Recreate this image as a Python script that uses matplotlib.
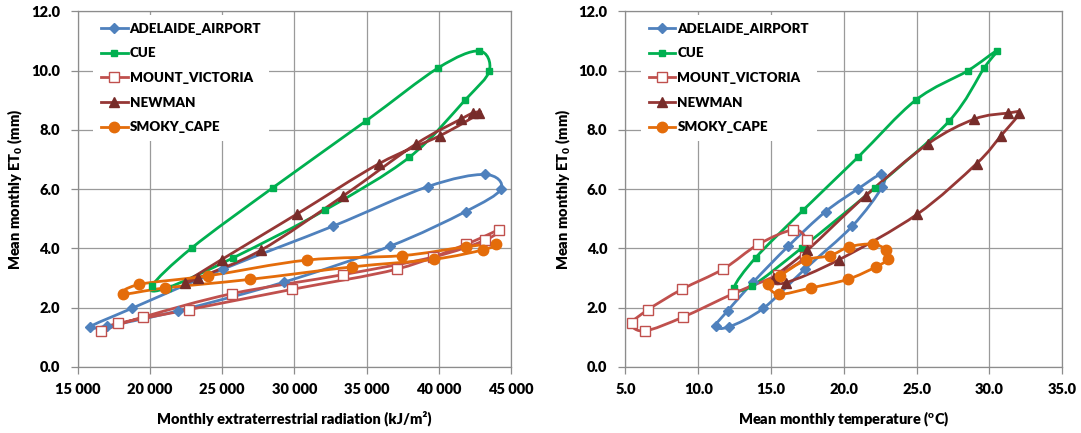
import numpy as np
import matplotlib
matplotlib.use("Agg")
import matplotlib.pyplot as plt
from matplotlib.path import Path
from matplotlib.patches import PathPatch
from matplotlib.lines import Line2D
from matplotlib.ticker import FuncFormatter, MultipleLocator

plt.rcParams['font.family'] = ['Lato', 'DejaVu Sans']
plt.rcParams['font.weight'] = 'heavy'
plt.rcParams['mathtext.fontset'] = 'custom'
plt.rcParams['mathtext.rm'] = 'Lato:heavy'
plt.rcParams['mathtext.bf'] = 'Lato:heavy'
plt.rcParams['mathtext.it'] = 'Lato:heavy'

# monthly values, Jan..Dec
adelaide_rad = [43199, 39230, 32693, 25076, 18733, 15845, 17000, 21960, 29300, 36620, 41862, 44306]
adelaide_temp = [22.55, 22.64, 20.58, 17.33, 14.46, 12.13, 11.19, 12.02, 13.78, 16.18, 18.75, 20.96]
adelaide_et0 = [6.49, 6.08, 4.75, 3.30, 1.97, 1.35, 1.37, 1.89, 2.86, 4.07, 5.24, 6.00]

cue_rad = [42783, 39965, 34935, 28497, 22887, 20117, 21225, 25770, 32119, 37957, 41814, 43498]
cue_temp = [30.49, 29.64, 27.22, 22.13, 17.10, 13.67, 12.47, 13.94, 17.21, 20.96, 24.93, 28.50]
cue_et0 = [10.66, 10.09, 8.29, 6.04, 4.01, 2.72, 2.67, 3.68, 5.29, 7.07, 9.00, 9.99]

mtvic_rad = [43199, 39590, 33376, 25700, 19536, 16586, 17763, 22700, 29813, 37128, 41862, 44167]
mtvic_temp = [17.44, 17.33, 15.49, 12.41, 8.97, 6.34, 5.43, 6.57, 8.86, 11.72, 14.12, 16.53]
mtvic_et0 = [4.27, 3.70, 3.11, 2.47, 1.68, 1.21, 1.46, 1.93, 2.61, 3.30, 4.13, 4.62]

newman_rad = [42783, 40082, 35879, 30159, 24965, 22424, 23345, 27666, 33386, 38420, 41536, 42346]
newman_temp = [32.03, 30.79, 29.12, 25.04, 19.69, 16.01, 15.22, 17.49, 21.49, 25.76, 28.96, 31.25]
newman_et0 = [8.55, 7.80, 6.86, 5.15, 3.62, 2.84, 3.00, 3.93, 5.77, 7.52, 8.36, 8.56]

smoky_rad = [43082, 39688, 33967, 26925, 21039, 18109, 19259, 24037, 30851, 37430, 41862, 43938]
smoky_temp = [22.87, 23.01, 22.19, 20.26, 17.72, 15.54, 14.81, 15.61, 17.38, 19.05, 20.37, 21.98]
smoky_et0 = [3.95, 3.63, 3.37, 2.95, 2.66, 2.45, 2.78, 3.07, 3.60, 3.75, 4.05, 4.14]

stations = ['ADELAIDE_AIRPORT', 'CUE', 'MOUNT_VICTORIA', 'NEWMAN', 'SMOKY_CAPE']
rad = [adelaide_rad, cue_rad, mtvic_rad, newman_rad, smoky_rad]
temp = [adelaide_temp, cue_temp, mtvic_temp, newman_temp, smoky_temp]
et0 = [adelaide_et0, cue_et0, mtvic_et0, newman_et0, smoky_et0]

styles = {
    'ADELAIDE_AIRPORT': dict(color='#4F81BD', marker='D', ms=5.5, mfc='#4F81BD', mec='#4F81BD'),
    'CUE': dict(color='#00B050', marker='s', ms=4.5, mfc='#00B050', mec='#00B050'),
    'MOUNT_VICTORIA': dict(color='#C0504D', marker='s', ms=7.5, mfc='white', mec='#C0504D'),
    'NEWMAN': dict(color='#953735', marker='^', ms=7.5, mfc='#772C2A', mec='#772C2A'),
    'SMOKY_CAPE': dict(color='#E46C0A', marker='o', ms=7.5, mfc='#E46C0A', mec='#E46C0A'),
}


def smooth_loop_path(x, y):
    # closed Bezier loop through the points, like Excel's smoothed line
    p = np.column_stack([x, y]).astype(float)
    m = len(p)
    verts = [p[0]]
    codes = [Path.MOVETO]
    for i in range(m):
        p0, p1, p2, p3 = p[(i - 1) % m], p[i], p[(i + 1) % m], p[(i + 2) % m]
        verts += [p1 + (p2 - p0) / 6.0, p2 - (p3 - p1) / 6.0, p2]
        codes += [Path.CURVE4] * 3
    return Path(verts, codes)


def draw_panel(ax, xs_list, xlabel, xlim, xstep, xfmt):
    for name, xs, ys in zip(stations, xs_list, et0):
        st = styles[name]
        patch = PathPatch(smooth_loop_path(xs, ys), facecolor='none', edgecolor=st['color'],
                          lw=2.0, capstyle='round', joinstyle='round')
        ax.add_patch(patch)
        ax.plot(xs, ys, ls='none', marker=st['marker'], ms=st['ms'], mfc=st['mfc'],
                mec=st['mec'], mew=1.0, clip_on=False)
    ax.set_xlim(*xlim)
    ax.set_ylim(0, 12)
    ax.xaxis.set_major_locator(MultipleLocator(xstep))
    ax.yaxis.set_major_locator(MultipleLocator(2))
    ax.xaxis.set_major_formatter(FuncFormatter(xfmt))
    ax.yaxis.set_major_formatter(FuncFormatter(lambda v, p: f"{v:.1f}"))
    ax.grid(True, color='#9A9A9A', lw=0.9)
    ax.set_axisbelow(True)
    for s in ax.spines.values():
        s.set_color('#8C8C8C')
        s.set_linewidth(0.9)
    ax.tick_params(axis='both', length=5, width=0.9, color='#8C8C8C', labelsize=10.5)
    ax.tick_params(axis='x', pad=7)
    ax.tick_params(axis='y', pad=8)
    for lab in ax.get_xticklabels() + ax.get_yticklabels():
        lab.set_fontweight('heavy')
    ax.set_xlabel(xlabel, fontsize=10.5, fontweight='heavy', labelpad=10)
    ax.set_ylabel('Mean monthly $\\mathbf{ET_0}$ (mm)', fontsize=10.5, fontweight='heavy', labelpad=4)

    handles = [Line2D([0], [0], color=styles[n]['color'], lw=2.0, marker=styles[n]['marker'],
                      ms=styles[n]['ms'], mfc=styles[n]['mfc'], mec=styles[n]['mec'])
               for n in stations]
    leg = ax.legend(handles, stations, loc='upper left', bbox_to_anchor=(0.035, 0.99),
                    borderaxespad=0, frameon=True, fancybox=False, framealpha=1,
                    handlelength=2.0, handletextpad=0.15, labelspacing=0.95,
                    borderpad=0.6, prop={'weight': 'heavy', 'size': 9.6})
    leg.get_frame().set_edgecolor('none')
    leg.get_frame().set_facecolor('white')


fig = plt.figure(figsize=(10.81, 4.33), dpi=100)
ax1 = fig.add_axes([0.072, 0.153, 0.4007, 0.821])
ax2 = fig.add_axes([0.5786, 0.153, 0.4041, 0.821])

draw_panel(ax1, rad, 'Monthly extraterrestrial radiation (kJ/m²)', (15000, 45000), 5000,
           lambda v, p: f"{int(v):,}".replace(',', ' '))
draw_panel(ax2, temp, 'Mean monthly temperature ($^\\mathbf{o}$C)', (5, 35), 5,
           lambda v, p: f"{v:.1f}")

fig.savefig('out.png', dpi=100, facecolor='white')
